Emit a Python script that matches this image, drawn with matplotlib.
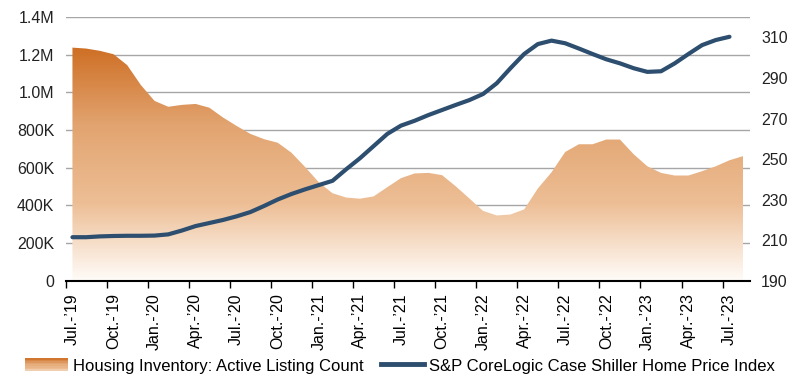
import matplotlib
matplotlib.use("Agg")
import matplotlib.pyplot as plt
import numpy as np
from matplotlib.colors import LinearSegmentedColormap
from matplotlib.legend_handler import HandlerBase
from matplotlib.patches import Rectangle
from matplotlib.lines import Line2D

plt.rcParams['font.family'] = ['Liberation Sans', 'DejaVu Sans']

# monthly, Jul 2019 .. Aug 2023 (active listings, thousands)
listings = [1238, 1233, 1221, 1203, 1145, 1039, 955, 924, 934, 939,
            919, 867, 822, 780, 752, 733, 680, 604, 523, 465,
            442, 436, 448, 497, 545, 570, 573, 561, 502, 437,
            371, 347, 352, 379, 490, 576, 684, 725, 725, 750,
            750, 672, 608, 573, 559, 559, 582, 608, 640, 662]

# Case Shiller index, Jul 2019 .. Jul 2023
hpi = [211.5, 211.5, 211.9, 212.1, 212.2, 212.2, 212.3, 212.9, 214.8, 217.0,
       218.5, 220.0, 221.8, 223.9, 226.9, 230.1, 232.8, 235.1, 237.2, 239.3,
       245.0, 250.4, 256.4, 262.4, 266.5, 268.9, 271.7, 274.2, 276.7, 279.1,
       282.1, 287.4, 294.8, 301.8, 306.7, 308.4, 307.1, 304.5, 301.8, 299.2,
       297.2, 294.8, 293.0, 293.3, 297.2, 301.8, 306.2, 308.7, 310.3]

month_labels = ["Jul.-’19", "Oct.-’19", "Jan.-’20", "Apr.-’20", "Jul.-’20",
                "Oct.-’20", "Jan.-’21", "Apr.-’21", "Jul.-’21", "Oct.-’21",
                "Jan.-’22", "Apr.-’22", "Jul.-’22", "Oct.-’22", "Jan.-’23",
                "Apr.-’23", "Jul.-’23"]

left_ticks = [0, 200, 400, 600, 800, 1000, 1200, 1400]
left_labels = ["0", "200K", "400K", "600K", "800K", "1.0M", "1.2M", "1.4M"]
right_ticks = [190, 210, 230, 250, 270, 290, 310]

orange = LinearSegmentedColormap.from_list(
    "inv", ["#FFFCF9", "#EDBE95", "#E2A470", "#CE6F25"], N=256)
line_color = "#2D4E6E"


class GradientHandler(HandlerBase):
    # legend swatch drawn as stacked strips, dark on top
    def create_artists(self, legend, orig_handle, xdescent, ydescent,
                       width, height, fontsize, trans):
        n = 8
        out = []
        for i in range(n):
            c = orange(0.95 - 0.7 * i / (n - 1))
            r = Rectangle((-xdescent, -ydescent + height * (n - 1 - i) / n),
                          width, height / n + 0.3, facecolor=c,
                          edgecolor='none', transform=trans)
            out.append(r)
        return out


fig = plt.figure(figsize=(8, 3.8), dpi=100)
ax = fig.add_axes([0.082, 0.261, 0.8555, 0.694])

x = np.arange(len(listings))
poly = ax.fill_between(x, listings, 0, facecolor='none', edgecolor='none')
grad = np.linspace(1, 0, 256).reshape(-1, 1)
img = ax.imshow(grad, cmap=orange, aspect='auto', origin='upper',
                extent=[x[0], x[-1], 0, max(listings)], zorder=1)
img.set_clip_path(poly.get_paths()[0], transform=ax.transData)

ax.set_xlim(-0.5, len(listings) - 0.5)
ax.set_ylim(0, 1400)
ax.set_yticks(left_ticks)
ax.set_yticklabels(left_labels)
ax.yaxis.grid(True, color='#A6A6A6', lw=1)
ax.set_axisbelow(True)

ax.set_xticks(x[::3])
ax.set_xticklabels(month_labels, rotation=90)
ax.set_xticks(x[::3] - 0.5, minor=True)
ax.tick_params(axis='x', which='major', length=0, pad=9, labelsize=11.5)
ax.tick_params(axis='x', which='minor', length=5, width=1, color='black')
ax.tick_params(axis='y', length=0, pad=8, labelsize=11.5, colors='#222222')

for s in ['left', 'right', 'top']:
    ax.spines[s].set_visible(False)
ax.spines['bottom'].set_color('black')
ax.spines['bottom'].set_linewidth(1.5)
ax.spines['bottom'].set_zorder(5)

ax2 = ax.twinx()
ax2.plot(x[:len(hpi)], hpi, color=line_color, lw=3,
         solid_capstyle='round', solid_joinstyle='round')
ax2.set_ylim(190, 320)
ax2.set_yticks(right_ticks)
ax2.tick_params(axis='y', length=0, pad=8, labelsize=11.5, colors='#222222')
for s in ax2.spines.values():
    s.set_visible(False)

handles = [Rectangle((0, 0), 1, 1),
           Line2D([], [], color=line_color, lw=3.5)]
fig.legend(handles, ["Housing Inventory: Active Listing Count",
                     "S&P CoreLogic Case Shiller Home Price Index"],
           handler_map={Rectangle: GradientHandler()},
           loc='center', bbox_to_anchor=(0.5, 0.037), ncol=2, frameon=False,
           fontsize=12, handlelength=2.6, handleheight=0.8,
           handletextpad=0.3, columnspacing=1.0, borderpad=0)

fig.savefig("out.png", dpi=100)
